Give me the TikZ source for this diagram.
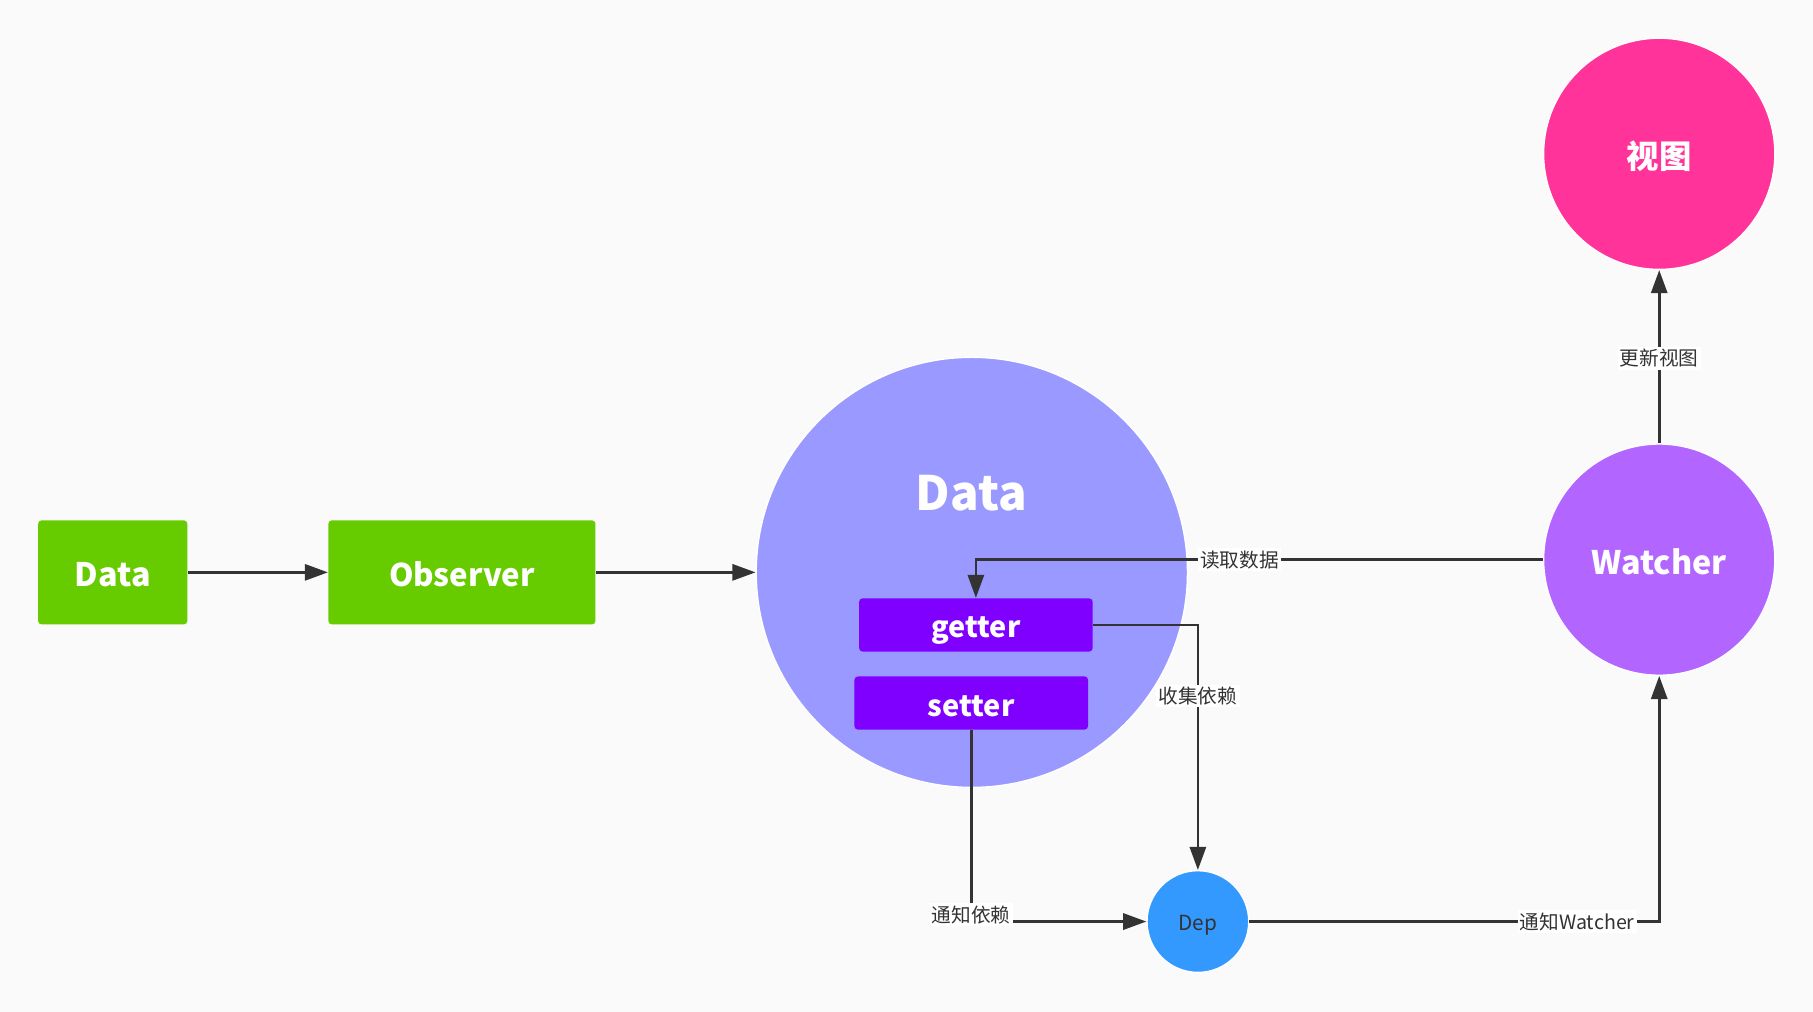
\documentclass[tikz,border=0pt]{standalone}
\usepackage{fontspec}
\setmainfont{Noto Sans CJK SC}
\usetikzlibrary{arrows.meta,shapes.geometric}
\definecolor{bg}{RGB}{250,250,250}
\definecolor{grn}{RGB}{102,204,0}
\definecolor{lav}{RGB}{153,153,255}
\definecolor{vio}{RGB}{127,0,255}
\definecolor{depc}{RGB}{51,153,255}
\definecolor{wat}{RGB}{178,102,255}
\definecolor{pinkc}{RGB}{255,51,153}
\definecolor{ink}{RGB}{51,51,51}
\begin{document}
\begin{tikzpicture}[x=0.5pt,y=-0.5pt,
 box/.style={rectangle, rounded corners=1.5pt, inner sep=0pt, text=white, font=\bfseries\fontsize{14}{16}\selectfont, text height=12.6pt, text depth=0pt},
 ball/.style={ellipse, inner sep=0pt, draw=white, line width=0.6pt, text=white, font=\bfseries\fontsize{14}{16}\selectfont, text height=12.6pt, text depth=0pt},
 conn/.style={draw=ink, line width=1.1pt, -{Triangle[length=10pt,width=7pt]}},
 lbl/.style={fill=white, text=ink, inner sep=1pt, font=\fontsize{8.5}{10}\selectfont}]
\fill[bg] (0,0) rectangle (1568,875);
\useasboundingbox (0,0) rectangle (1568,875);

\node[box, fill=grn, minimum width=64.5pt, minimum height=45pt] (d1) at (97.5,495) {Data};
\node[box, fill=grn, minimum width=115.5pt, minimum height=45pt, font=\bfseries\fontsize{13.5}{16}\selectfont, text height=12.15pt] (obs) at (399.5,495) {Observer};
\node[ball, fill=lav, minimum width=186.5pt, minimum height=186pt] (dc) at (840.5,495) {};
\node[text=white, inner sep=0pt, font=\bfseries\fontsize{20.5}{24}\selectfont, text height=18.45pt, text depth=0pt] (dt) at (840,423) {Data};
\node[box, fill=vio, minimum width=101pt, minimum height=23pt, font=\bfseries\fontsize{12.5}{15}\selectfont, text height=11.25pt] (get) at (844,540.5) {getter};
\node[box, fill=vio, minimum width=101pt, minimum height=23pt, font=\bfseries\fontsize{12.5}{15}\selectfont, text height=11.25pt] (set) at (840,608) {setter};
\node[ball, fill=depc, minimum width=44pt, minimum height=44pt, text=ink, font=\fontsize{9}{10}\selectfont, text height=8.1pt] (dep) at (1036,797) {Dep};
\node[ball, fill=wat, minimum width=100pt, minimum height=100pt] (wat) at (1435,484) {Watcher};
\node[ball, fill=pinkc, minimum width=100pt, minimum height=100pt] (view) at (1435,133) {视图};

\draw[conn] (d1.east) -- (obs.west);
\draw[conn] (obs.east) -- (dc.west);
\draw[conn] (wat.west) -- node[lbl,pos=0.535]{读取数据} (get.north |- wat.west) -- (get.north);
\draw[conn] (get.east) -- (get.east -| dep.north) -- node[lbl,pos=0.29]{收集依赖} (dep.north);
\draw[conn] (set.south) -- node[lbl,pos=0.965]{通知依赖} (set.south |- dep.west) -- (dep.west);
\draw[conn] (dep.east) -- node[lbl,pos=0.8]{通知Watcher} (dep.east -| wat.south) -- (wat.south);
\draw[conn] (wat.north) -- node[lbl,pos=0.49]{更新视图} (view.south);
\end{tikzpicture}
\end{document}
